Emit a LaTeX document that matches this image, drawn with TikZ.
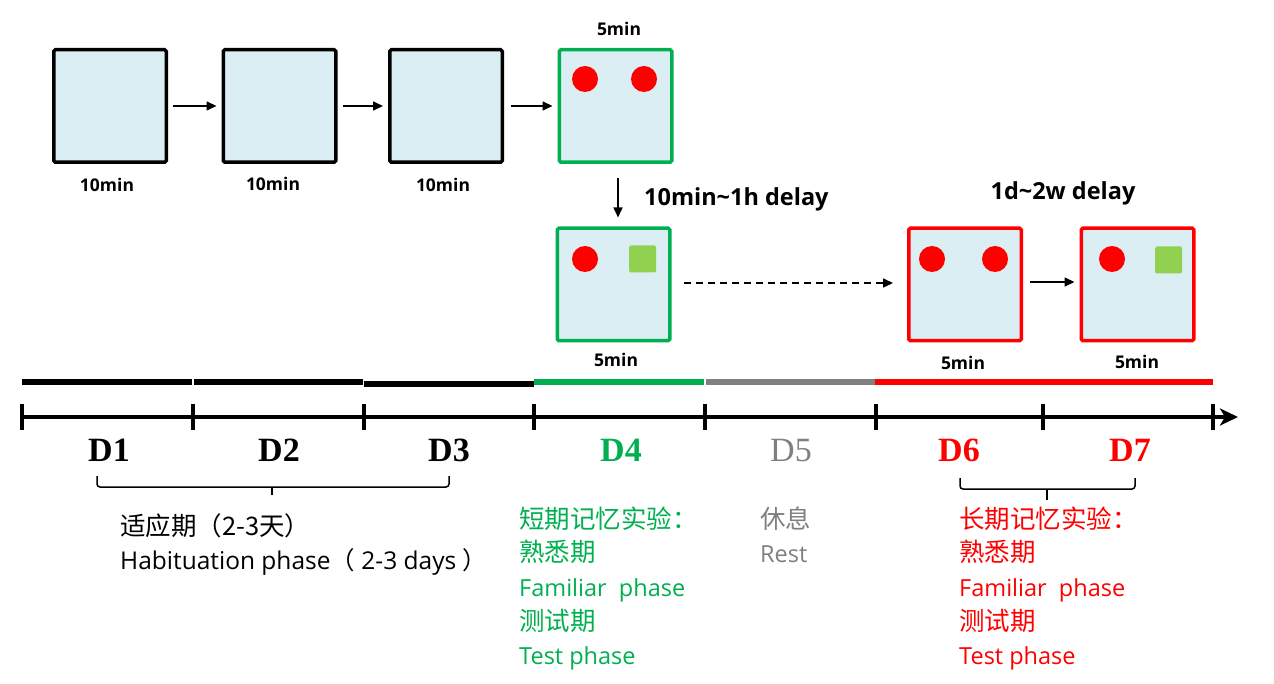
\documentclass[tikz,border=0pt]{standalone}
\usepackage{fontspec}
\setmainfont{Open Sans}
\newfontfamily\cjk{Noto Sans CJK SC}
\newfontfamily\timesf{Liberation Serif}
\usetikzlibrary{arrows.meta}
\definecolor{boxfill}{HTML}{DAEEF3}
\definecolor{gre}{HTML}{00B050}
\definecolor{myred}{HTML}{FF0000}
\definecolor{sqgreen}{HTML}{92D050}
\definecolor{gry}{HTML}{808080}
\tikzset{
  box/.style={draw, line width=3.5pt, fill=boxfill, minimum size=112.5pt, inner sep=0pt, rounded corners=1.5pt},
  blackbox/.style={box, draw=black},
  greenbox/.style={box, draw=gre},
  redbox/.style={box, draw=myred},
  dot/.style={circle, fill=myred, minimum size=26pt, inner sep=0pt},
  sqr/.style={fill=sqgreen, minimum size=27pt, inner sep=0pt, rounded corners=1.5pt},
  arr/.style={line width=1.6pt, -{Triangle[length=10pt,width=9pt]}},
  lbl/.style={font=\fontsize{17.5}{20}\selectfont\bfseries, inner sep=0pt},
  dly/.style={font=\fontsize{23.5}{26}\selectfont\bfseries, inner sep=0pt},
  dlab/.style={font=\fontsize{34}{36}\selectfont\timesf\bfseries, inner sep=0pt, anchor=base},
  txt/.style={anchor=base west, inner sep=0pt, font=\fontsize{23.5}{28}\selectfont},
  cjktxt/.style={anchor=base west, inner sep=0pt, font=\fontsize{25.5}{28}\selectfont\cjk},
  bar/.style={line width=6pt},
  tick/.style={line width=4pt},
  brc/.style={line width=1.5pt, rounded corners=3pt}
}
\begin{document}
\begin{tikzpicture}[x=1pt,y=-1pt]
\useasboundingbox (0,0) rectangle (1274,684);

% top row of boxes
\node[blackbox] (b1) at (110,106) {};
\node[blackbox] (b2) at (279.5,106) {};
\node[blackbox] (b3) at (446,106) {};
\node[greenbox] (b4) at (615.5,106) {};
\node[dot] (c41) at (585,79) {};
\node[dot] (c42) at (644,79) {};

\node[lbl] (l1) at (107,185) {10min};
\node[lbl] (l2) at (273,184) {10min};
\node[lbl] (l3) at (443,185) {10min};
\node[lbl] (l4) at (619,29) {5min};

\draw[arr, shorten <=5pt, shorten >=5pt] (b1.east) -- (b2.west);
\draw[arr, shorten <=5pt, shorten >=5pt] (b2.east) -- (b3.west);
\draw[arr, shorten <=7pt, shorten >=5pt] (b3.east) -- (b4.west);

% second row
\node[greenbox] (b5) at (613.5,284.5) {};
\node[dot] (c51) at (585,259) {};
\node[sqr] (s5) at (642.5,259) {};
\node[redbox] (b6) at (965,284.5) {};
\node[dot] (c61) at (932,259) {};
\node[dot] (c62) at (995,259) {};
\node[redbox] (b7) at (1137.5,284.5) {};
\node[dot] (c71) at (1112,259) {};
\node[sqr] (s7) at (1168.5,260) {};

\node[lbl] (l5) at (616,360) {5min};
\node[lbl] (l6) at (963,363) {5min};
\node[lbl] (l7) at (1137,362) {5min};

\draw[arr, shorten <=14pt, shorten >=9pt] ([xshift=2.5pt]b4.south) -- ([xshift=4.5pt]b5.north);
\node[dly, anchor=base west] (d1) at (644,206) {10min\textasciitilde 1h delay};
\draw[arr, dashed, dash pattern=on 7pt off 5pt, shorten <=12pt, shorten >=14pt] ([yshift=1.5pt]b5.east) -- ([yshift=1.5pt]b6.west);
\draw[arr, shorten <=7pt, shorten >=5pt] ([yshift=2.5pt]b6.east) -- ([yshift=2.5pt]b7.west);
\node[dly, anchor=base] (d2) at (1063,200) {1d\textasciitilde 2w delay};

% coloured phase bars
\coordinate (p0) at (22,382);
\coordinate (p1) at (192,382);
\coordinate (p1b) at (194,382);
\coordinate (p2) at (363,382);
\coordinate (p2b) at (364,384);
\coordinate (p3) at (534,384);
\coordinate (p3b) at (534,382);
\coordinate (p4) at (704,382);
\coordinate (p4b) at (706,382);
\coordinate (p5) at (875,382);
\coordinate (p6) at (1213,382);
\draw[bar, black] (p0) -- (p1);
\draw[bar, black] (p1b) -- (p2);
\draw[bar, black] (p2b) -- (p3);
\draw[bar, gre] (p3b) -- (p4);
\draw[bar, gry] (p4b) -- (p5);
\draw[bar, myred] (p5) -- (p6);

% timeline
\coordinate (t0) at (22,417);
\coordinate (t1) at (193,417);
\coordinate (t2) at (364,417);
\coordinate (t3) at (534,417);
\coordinate (t4) at (705,417);
\coordinate (t5) at (876,417);
\coordinate (t6) at (1043,417);
\coordinate (t7) at (1213,417);
\coordinate (tend) at (1238,417);
\draw[line width=4.5pt, -{Stealth[length=18pt,width=17pt,inset=5pt]}] (t0) -- (tend);
\foreach \t in {t0,t1,t2,t3,t4,t5,t6,t7}
  \draw[tick] (\t) ++(0,-13) -- ++(0,26);

% day labels
\node[dlab] (D1) at (109,461) {D1};
\node[dlab] (D2) at (279,461) {D2};
\node[dlab] (D3) at (449,461) {D3};
\node[dlab, text=gre] (D4) at (621,461) {D4};
\node[dlab, text=gry, font=\fontsize{34}{36}\selectfont\timesf] (D5) at (791,461) {D5};
\node[dlab, text=myred] (D6) at (959,461) {D6};
\node[dlab, text=myred] (D7) at (1130,461) {D7};

% braces
\draw[brc] (97,476) -- (97,487) -- (449,487) -- (449,476);
\draw[line width=1.5pt] (272,487) -- (272,495);
\draw[brc] (960,478) -- (960,489) -- (1135,489) -- (1135,478);
\draw[line width=1.5pt] (1047,489) -- (1047,500);

% habituation text
\node[cjktxt] (h1) at (120,535) {适应期（2-3天）};
\node[txt, font=\fontsize{24.5}{28}\selectfont] (h2) at (120,569) {Habituation phase{\cjk（} 2-3 days {\cjk）}};

% short-term memory text
\node[cjktxt, text=gre] (g1) at (519,528) {短期记忆实验：};
\node[cjktxt, text=gre] (g2) at (519,561) {熟悉期};
\node[txt, text=gre] (g3) at (519,596) {Familiar\ \ phase};
\node[cjktxt, text=gre] (g4) at (519,630) {测试期};
\node[txt, text=gre] (g5) at (519,664) {Test phase};

% rest text
\node[cjktxt, text=gry] (r1) at (760,528) {休息};
\node[txt, text=gry] (r2) at (760,562) {Rest};

% long-term memory text
\node[cjktxt, text=myred] (m1) at (959,528) {长期记忆实验：};
\node[cjktxt, text=myred] (m2) at (959,561) {熟悉期};
\node[txt, text=myred] (m3) at (959,596) {Familiar\ \ phase};
\node[cjktxt, text=myred] (m4) at (959,630) {测试期};
\node[txt, text=myred] (m5) at (959,664) {Test phase};
\end{tikzpicture}
\end{document}
